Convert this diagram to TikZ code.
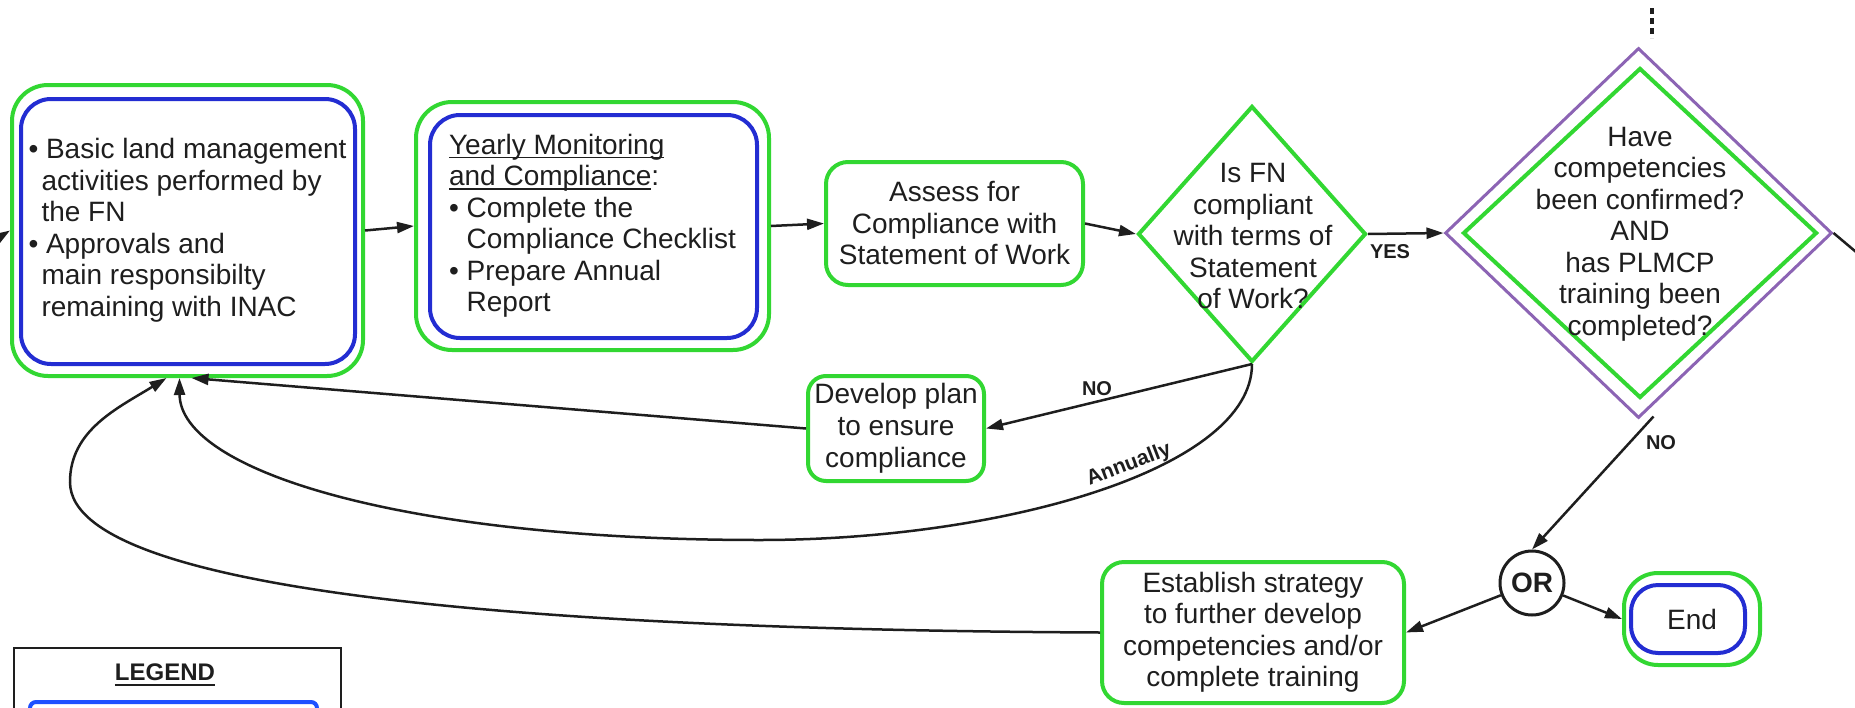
\documentclass[tikz,border=0pt]{standalone}
\usepackage{fontspec}
\setmainfont{Liberation Sans}
\usetikzlibrary{shapes.geometric,arrows.meta,calc}
\definecolor{fgreen}{RGB}{50,215,50}
\definecolor{fblue}{RGB}{35,45,210}
\definecolor{fpurple}{RGB}{140,100,180}
\definecolor{lblue}{RGB}{30,80,255}
\definecolor{ink}{RGB}{30,30,30}
\newcommand{\myul}[1]{\setbox0\hbox{#1}\rlap{\rule[-4pt]{\wd0}{1.6pt}}\box0}
\newcommand{\myulb}[1]{\setbox0\hbox{#1}\rlap{\rule[-6pt]{\wd0}{2.6pt}}\box0}
\begin{document}
\begin{tikzpicture}[x=1pt,y=-1pt,
  txt/.style={font=\fontsize{28pt}{31.5pt}\selectfont, text=ink},
  gbox/.style={txt, draw=fgreen, line width=4pt, inner sep=0pt},
  bbox/.style={draw=fblue, line width=4pt},
  lbl/.style={font=\bfseries\fontsize{20pt}{22pt}\selectfont, text=ink, inner sep=0pt},
  arr/.style={draw=ink, line width=2.5pt, -{Triangle[length=17pt,width=11pt]}},
  plain/.style={draw=ink, line width=2.5pt},
  dots/.style={draw=ink, line width=4pt, dash pattern=on 6pt off 4pt}
]
\useasboundingbox (0,0) rectangle (1855,707);

% ---------- boxes ----------
\node[gbox, rounded corners=36pt, minimum width=351pt, minimum height=291pt, align=left] (lb) at (187.5,230.5)
 {•\ Basic land management\\\hspace*{13pt}activities performed by\\\hspace*{13pt}the FN\\•\ Approvals and\\\hspace*{13pt}main responsibilty\\\hspace*{13pt}remaining with INAC};
\draw[bbox, rounded corners=30pt] ([shift={(11,16)}]lb.north west) rectangle ([shift={(-10,-14)}]lb.south east);

\node[gbox, rounded corners=36pt, minimum width=353pt, minimum height=248pt, align=left] (yb) at (592.5,226)
 {\myul{Yearly Monitoring}\\\myul{and Compliance}:\\•\ Complete the\\\hphantom{•\ }Compliance Checklist\\•\ Prepare Annual\\\hphantom{•\ }Report};
\draw[bbox, rounded corners=30pt] ([shift={(16,15)}]yb.north west) rectangle ([shift={(-14,-14)}]yb.south east);

\node[gbox, rounded corners=22pt, minimum width=257pt, minimum height=123pt, align=center] (as) at (954.5,223.5)
 {Assess for\\Compliance with\\Statement of Work};

\node[diamond, draw=fgreen, line width=4pt, minimum width=228pt, minimum height=256pt, inner sep=0pt] (d1) at (1252,234) {};
\node[txt, align=center, inner sep=0pt] (d1t) at (1253,236) {Is FN\\compliant\\with terms of\\Statement\\of Work?};

\node[diamond, draw=fpurple, line width=3pt, minimum width=387pt, minimum height=370pt, inner sep=0pt] (bd) at (1638.5,233) {};
\node[diamond, draw=fgreen, line width=4pt, minimum width=354pt, minimum height=330pt, inner sep=0pt] (bdi) at (1640,233) {};
\node[txt, align=center, inner sep=0pt] (bdt) at (1640,234) {Have\\competencies\\been confirmed?\\AND\\has PLMCP\\training been\\completed?};

\node[gbox, rounded corners=18pt, minimum width=176pt, minimum height=105pt, align=center,
      font=\fontsize{28pt}{32pt}\selectfont] (dp) at (896,428.5)
 {Develop plan\\to ensure\\compliance};

\node[gbox, rounded corners=22pt, minimum width=302pt, minimum height=141pt, align=center] (es) at (1253,632.5)
 {Establish strategy\\to further develop\\competencies and/or\\complete training};

\node[circle, draw=ink, line width=3pt, minimum size=64pt, inner sep=0pt, font=\bfseries\fontsize{28pt}{30pt}\selectfont, text=ink] (or) at (1532,583) {OR};

\node[gbox, rounded corners=34pt, minimum width=136pt, minimum height=92pt] (en) at (1692,619) {End};
\draw[bbox, rounded corners=27pt] ([shift={(9,14)}]en.north west) rectangle ([shift={(-17,-14)}]en.south east);

% ---------- legend ----------
\node[draw=ink, line width=2pt, minimum width=327pt, minimum height=100pt, anchor=north west, inner sep=0pt] (lg) at (13,647) {};
\node[font=\bfseries\fontsize{24pt}{26pt}\selectfont, text=ink, inner sep=0pt] (lgt) at (165,675) {\myulb{LEGEND}};
\node[draw=lblue, line width=4pt, rounded corners=6pt, minimum width=287pt, minimum height=60pt, anchor=north west, inner sep=0pt] (lgb) at (28,700) {};

% ---------- coordinates ----------
\coordinate (lx) at (-40,262);
\coordinate (rx) at (1862,257);
\coordinate (ann) at (760,540);
\coordinate (lp) at (70,482);
\coordinate (t1) at (1652,8);
\coordinate (t2) at (1652,38);

% ---------- connectors ----------
\draw[arr] (lx) -- (lb.west);
\draw[arr] (lb.east) -- (yb.west);
\draw[arr] (yb.east) -- (as.west);
\draw[arr] (as.east) -- (d1.west);
\draw[arr] (d1.east) -- (bd.west);
\node[lbl] (yes) at (1390,252) {YES};
\draw[arr] (d1.south) -- (dp.east);
\node[lbl] (no1) at (1097,389) {NO};
\draw[arr] (dp.west) -- ([shift={(4,0)}]lb.south);
\draw[arr] (d1.south) .. controls (1252,470) and (1000,540) .. (ann)
                      .. controls (400,540) and (180,470) .. ([shift={(-8,0)}]lb.south);
\node[lbl, rotate=21, font=\bfseries\fontsize{21pt}{23pt}\selectfont] (annl) at (1129,465) {Annually};
\draw[arr] (es.west) .. controls (600,630) and (70,600) .. (lp)
                     .. controls (70,430) and (118,408) .. ([shift={(-21,0)}]lb.south);
\draw[arr] ([shift={(15,-3)}]bd.south) -- (or.north);
\node[lbl] (no2) at (1661,443) {NO};
\draw[arr] (or) -- (es.east);
\draw[arr] (or) -- (en.west);
\draw[plain] (bd.east) -- (rx);
\draw[dots] (t1) -- (t2);
\end{tikzpicture}
\end{document}
